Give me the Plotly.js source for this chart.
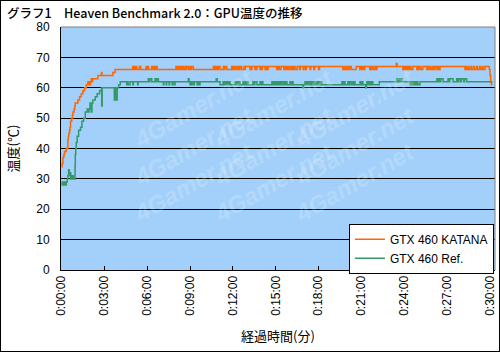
<!DOCTYPE html>
<html>
<head>
<meta charset="utf-8">
<script src="https://cdn.plot.ly/plotly-3.0.1.min.js"></script>
<style>
html,body{margin:0;padding:0;background:#fff;}
#frame{width:498px;height:350px;border:1px solid #000;}
</style>
</head>
<body>
<div id="frame"><div id="chart"></div></div>
<script>
// ---- data (seconds since start, temperature in degC), change points ----
const seriesNames = ["GTX 460 KATANA", "GTX 460 Ref."];
const tickSeconds = [0,180,360,540,720,900,1080,1260,1440,1620,1800];
const tickLabels = ["0:00:00","0:03:00","0:06:00","0:09:00","0:12:00","0:15:00","0:18:00","0:21:00","0:24:00","0:27:00","0:30:00"];

const katanaTime = [0,3,6,10,13,20,27,29,31,34,36,38,43,46,48,53,56,58,69,76,83,90,97,104,111,114,117,120,122,125,128,131,153,168,170,216,225,
299,302,303,306,308,311,312,316,327,330,331,333,355,358,360,365,379,382,384,390,391,395,397,402,
481,484,486,492,494,497,499,505,507,512,519,523,525,533,540,544,547,554,
638,641,644,650,653,656,659,666,680,684,686,694,715,719,721,726,729,736,743,747,750,757,767,770,772,
792,795,797,800,813,817,818,821,834,837,839,843,855,859,862,868,
904,907,909,913,915,922,934,938,940,946,948,952,955,962,964,970,972,978,981,990,
1000,1003,1015,1018,1025,1028,1044,1047,1060,1063,1080,1084,
1182,1186,1188,1195,1197,1204,1206,1211,1218,1238,1253,1257,1260,1266,1268,1274,
1295,1299,1302,1309,1311,1318,1320,1325,1406,1410,
1434,1438,1441,1447,1450,1456,1459,1465,1468,1476,1493,1497,1500,1507,1510,1518,
1535,1539,1542,1549,1552,1560,1563,1569,1577,1581,1584,1590,
1695,1699,1702,1709,1712,1720,1723,1731,1735,1744,1747,1756,1760,1768,1771,1779,
1797,1800,1803,1806,1810];
const katanaTemp = [34,35,37,38,39,40,43,44,45,46,47,49,50,51,52,53,54,55,56,57,58,59,60,61,62,61,62,61,62,63,62,63,64,65,64,65,66,
67,66,67,66,67,66,67,66,67,66,67,66,67,66,67,66,67,66,67,66,67,66,67,66,
67,66,67,66,67,66,67,66,67,66,67,66,67,66,67,66,67,66,
67,66,67,66,67,66,67,66,67,66,67,66,67,66,67,66,67,66,67,66,67,66,67,66,67,
66,67,66,67,66,67,66,67,66,67,66,67,66,67,66,67,
66,67,66,67,66,67,66,67,66,67,66,67,66,67,66,67,66,67,66,67,
66,67,66,67,66,67,66,67,66,67,66,67,
66,67,66,67,66,67,66,67,66,67,66,67,66,67,66,67,
66,67,66,67,66,67,66,67,68,67,
66,67,66,67,66,67,66,67,66,67,66,67,66,67,66,67,
66,67,66,67,66,67,66,67,66,67,66,67,
66,67,66,67,66,67,66,67,66,67,66,67,66,67,66,67,
66,64,62,61,61];

const refTime = [0,3,6,9,12,16,20,24,27,30,33,36,39,45,50,57,58,60,62,66,72,80,86,93,100,108,112,116,120,125,128,132,142,150,160,168,169,171,222,225,231,234,240,247,
274,278,280,288,300,302,320,322,365,369,371,379,393,397,400,407,
428,430,440,442,452,454,465,468,475,477,533,536,540,543,546,548,555,558,570,574,578,582,650,654,666,
679,683,686,692,695,701,704,708,729,733,736,743,746,750,762,766,769,775,778,784,
804,809,812,821,834,838,841,846,884,888,891,897,900,905,
909,913,916,922,925,932,935,941,944,947,960,965,968,973,1014,1017,
1023,1027,1030,1036,1039,1046,1049,1056,1059,1065,1073,1077,1080,1087,1090,1094,
1178,1182,1185,1191,1203,1207,1210,1217,1220,1226,1229,1233,1254,1258,1261,1266,1278,1281,
1283,1287,1290,1296,1299,1304,1306,1308,1335,
1409,1413,1416,1422,1425,1430,1464,1468,1471,1477,1480,1486,1489,1493,1497,1506,
1577,1581,1584,1590,1593,1603,1624,1628,1631,1645,1660,1665,1668,1676,1680,1690,1693,1702,1810];
const refTemp = [29,28,29,28,29,28,29,30,31,33,31,32,30,31,30,34,38,40,42,44,46,47,49,50,52,53,52,53,55,52,55,56,57,58,59,60,54,60,56,60,56,60,61,62,
61,62,61,62,61,62,61,62,63,62,63,62,63,62,63,62,
61,62,61,62,61,62,61,62,61,62,63,62,61,62,61,62,61,62,61,62,61,62,63,62,61,
62,61,62,61,62,61,62,61,62,61,62,61,62,61,62,61,62,61,62,61,
62,61,62,61,62,61,62,61,62,61,62,61,62,61,
62,61,62,61,62,61,62,61,62,61,62,61,62,61,60,61,
62,61,62,61,62,61,62,61,62,61,62,61,62,61,62,61,
62,61,62,61,62,61,62,61,62,61,62,61,62,61,62,61,60,61,
62,61,62,61,62,61,62,61,62,
63,62,63,62,63,62,61,62,61,62,61,62,61,62,61,62,
63,62,63,62,63,62,63,62,63,62,63,62,63,62,63,62,63,62,62];

// ---- watermark (decorative text) ----
const watermarkText = "4Gamer.net";

const traces = [
  {x: katanaTime, y: katanaTemp, name: seriesNames[0], type: "scatter", mode: "lines",
   line: {color: "#FF6600", width: 1.5, shape: "hv"}},
  {x: refTime, y: refTemp, name: seriesNames[1], type: "scatter", mode: "lines",
   line: {color: "#339966", width: 1.5, shape: "hv"}}
];

const annotations = [];
const wmCols = [0.15, 0.49, 0.83];
const wmRows = [0.86, 0.51, 0.165];
wmRows.forEach(function (ry) {
  wmCols.forEach(function (cx) {
    annotations.push({text: "<b><i>" + watermarkText + "</i></b>", xref: "paper", yref: "paper",
      x: cx, y: ry, showarrow: false, textangle: -30,
      font: {family: "Liberation Sans", size: 24, color: "rgba(255,255,255,0.2)"}});
  });
});

const layout = {
  width: 498, height: 350,
  margin: {l: 60, r: 4, t: 26, b: 81, pad: 0},
  paper_bgcolor: "#ffffff",
  plot_bgcolor: "#A2D0FA",
  font: {family: "Liberation Sans", size: 12, color: "#000"},
  title: {text: "グラフ1　Heaven Benchmark 2.0：GPU温度の推移", x: 0.012, xref: "container", xanchor: "left",
          y: 0.965, yref: "container", yanchor: "middle",
          font: {family: "Noto Sans CJK JP", size: 12.5, color: "#000", weight: 500}},
  showlegend: true,
  legend: {x: 0.9975, xanchor: "right", y: 0.19, yanchor: "top", bgcolor: "#fff",
           bordercolor: "#000", borderwidth: 1, font: {family: "Liberation Sans", size: 12, color: "#000"},
           itemwidth: 30, tracegroupgap: 0},
  xaxis: {range: [-2, 1821], tickvals: tickSeconds, ticktext: tickLabels, tickangle: -90,
          ticks: "inside", ticklen: 4, tickcolor: "#000", showline: true, linecolor: "#000", linewidth: 1,
          showgrid: false, zeroline: false, automargin: false,
          tickfont: {family: "Liberation Sans", size: 12, color: "#000"},
          title: {text: "経過時間(分)", standoff: 17, font: {family: "Noto Sans CJK JP", size: 13, color: "#000"}}},
  yaxis: {range: [0, 80], dtick: 10, tick0: 0, showgrid: true, gridcolor: "#000", gridwidth: 1,
          showline: true, linecolor: "#000", linewidth: 1, ticks: "", zeroline: false, automargin: false,
          ticklabelstandoff: 8,
          tickfont: {family: "Liberation Sans", size: 12, color: "#000"},
          title: {text: "温度(℃)", standoff: 14, font: {family: "Noto Sans CJK JP", size: 13, color: "#000"}}},
  shapes: [
    {type: "line", xref: "paper", yref: "paper", x0: 0, x1: 1, y0: 1, y1: 1, line: {color: "#808080", width: 1}},
    {type: "line", xref: "paper", yref: "paper", x0: 1, x1: 1, y0: 0, y1: 1, line: {color: "#808080", width: 1}}
  ],
  annotations: annotations
};

Plotly.newPlot("chart", traces, layout, {staticPlot: true, displayModeBar: false});
</script>
</body>
</html>
